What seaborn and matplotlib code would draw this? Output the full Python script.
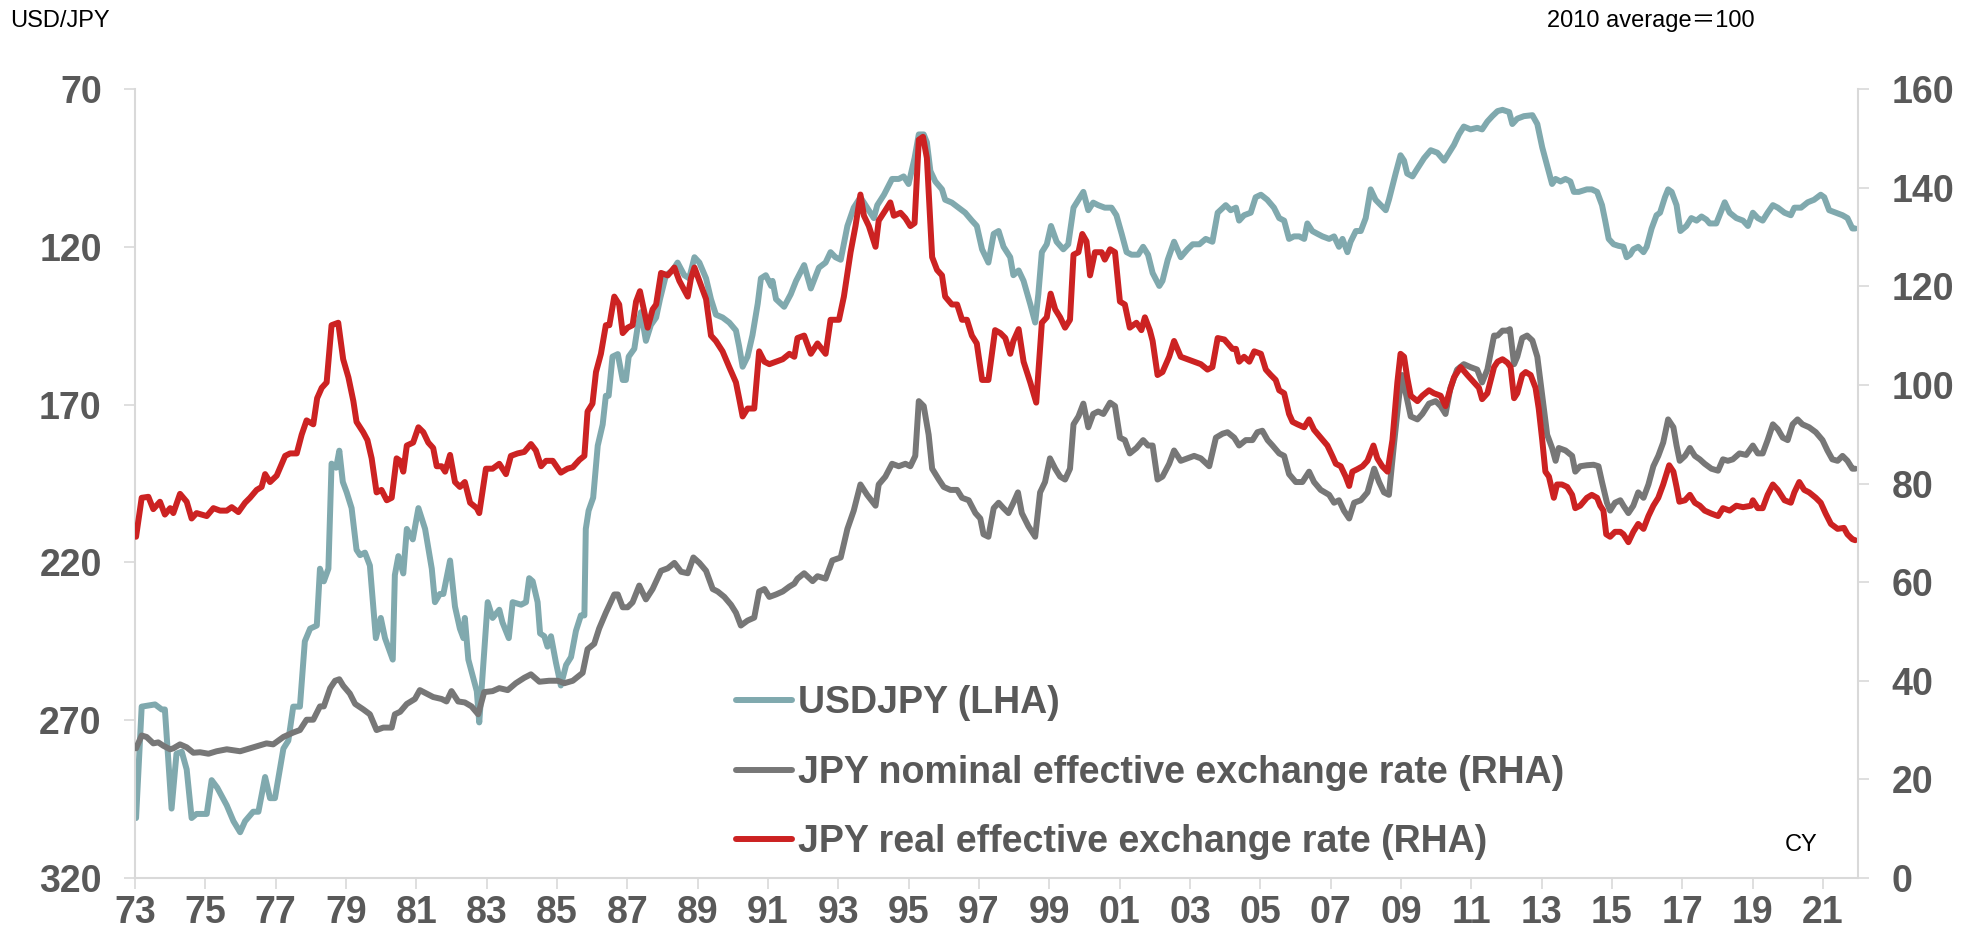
import matplotlib
matplotlib.use("Agg")
import matplotlib.pyplot as plt
import pandas as pd
import seaborn as sns

# ---------------- data ----------------
usd_years = [1973.03, 1973.19, 1973.57, 1973.76, 1973.85, 1974.04, 1974.18, 1974.33, 1974.47, 1974.61,
             1974.75, 1975.04, 1975.18, 1975.34, 1975.61, 1975.80, 1975.99, 1976.13, 1976.36, 1976.51,
             1976.70, 1976.84, 1976.98, 1977.22, 1977.36, 1977.50, 1977.69, 1977.83, 1977.98, 1978.17,
             1978.26, 1978.37, 1978.50, 1978.59, 1978.72, 1978.81, 1978.91, 1979.02, 1979.16, 1979.30,
             1979.40, 1979.54, 1979.68, 1979.85, 1979.99, 1980.11, 1980.33, 1980.39, 1980.49, 1980.63,
             1980.73, 1980.90, 1981.06, 1981.25, 1981.44, 1981.53, 1981.67, 1981.77, 1981.96, 1982.10,
             1982.24, 1982.34, 1982.38, 1982.48, 1982.72, 1982.79, 1983.03, 1983.17, 1983.36, 1983.45,
             1983.63, 1983.74, 1983.98, 1984.12, 1984.21, 1984.31, 1984.45, 1984.52, 1984.64, 1984.73,
             1984.83, 1984.97, 1985.11, 1985.26, 1985.40, 1985.54, 1985.68, 1985.78, 1985.82, 1985.90,
             1986.03, 1986.16, 1986.30, 1986.39, 1986.47, 1986.58, 1986.73, 1986.87, 1986.96, 1987.04,
             1987.20, 1987.29, 1987.39, 1987.53, 1987.67, 1987.82, 1987.93, 1988.10, 1988.29, 1988.43,
             1988.62, 1988.76, 1988.91, 1989.05, 1989.24, 1989.38, 1989.52, 1989.71, 1989.90, 1990.09,
             1990.18, 1990.28, 1990.42, 1990.56, 1990.71, 1990.80, 1990.94, 1991.09, 1991.13, 1991.23,
             1991.46, 1991.65, 1991.80, 1992.03, 1992.22, 1992.45, 1992.64, 1992.78, 1992.92, 1993.07,
             1993.26, 1993.44, 1993.63, 1993.82, 1994.01, 1994.11, 1994.30, 1994.53, 1994.72, 1994.86,
             1995.00, 1995.17, 1995.29, 1995.43, 1995.52, 1995.62, 1995.76, 1995.95, 1996.04, 1996.23,
             1996.42, 1996.61, 1996.80, 1996.94, 1997.09, 1997.27, 1997.42, 1997.56, 1997.70, 1997.89,
             1997.98, 1998.13, 1998.27, 1998.46, 1998.60, 1998.69, 1998.79, 1998.93, 1999.05, 1999.21,
             1999.40, 1999.54, 1999.69, 1999.83, 1999.97, 2000.11, 2000.25, 2000.39, 2000.58, 2000.77,
             2000.91, 2001.06, 2001.20, 2001.34, 2001.53, 2001.67, 2001.81, 2001.94, 2002.13, 2002.22,
             2002.37, 2002.55, 2002.74, 2002.93, 2003.08, 2003.27, 2003.45, 2003.64, 2003.79, 2004.02,
             2004.16, 2004.31, 2004.40, 2004.54, 2004.73, 2004.87, 2005.02, 2005.20, 2005.39, 2005.54,
             2005.68, 2005.82, 2005.96, 2006.11, 2006.25, 2006.34, 2006.48, 2006.63, 2006.77, 2006.96,
             2007.10, 2007.24, 2007.34, 2007.48, 2007.57, 2007.72, 2007.86, 2008.00, 2008.14, 2008.28,
             2008.43, 2008.57, 2008.66, 2008.85, 2008.99, 2009.09, 2009.18, 2009.33, 2009.47, 2009.66,
             2009.85, 2010.04, 2010.23, 2010.37, 2010.51, 2010.65, 2010.79, 2010.98, 2011.17, 2011.31,
             2011.46, 2011.60, 2011.75, 2011.89, 2012.08, 2012.17, 2012.31, 2012.50, 2012.74, 2012.88,
             2013.02, 2013.16, 2013.30, 2013.40, 2013.54, 2013.68, 2013.82, 2013.92, 2014.06, 2014.29,
             2014.43, 2014.58, 2014.72, 2014.81, 2014.91, 2015.05, 2015.19, 2015.33, 2015.42, 2015.52,
             2015.61, 2015.75, 2015.90, 2015.99, 2016.13, 2016.27, 2016.37, 2016.51, 2016.60, 2016.70,
             2016.84, 2016.95, 2017.12, 2017.26, 2017.41, 2017.55, 2017.69, 2017.78, 2017.97, 2018.21,
             2018.35, 2018.54, 2018.73, 2018.87, 2019.01, 2019.15, 2019.29, 2019.43, 2019.58, 2019.72,
             2019.91, 2020.09, 2020.19, 2020.38, 2020.57, 2020.75, 2020.94, 2021.04, 2021.18, 2021.37,
             2021.56, 2021.70, 2021.84, 2021.92]
usd_vals = [301.0, 265.7, 265.0, 266.6, 266.6, 298.0, 280.6, 280.0, 285.6, 301.0,
            299.7, 299.7, 289.0, 291.4, 297.0, 302.0, 305.5, 302.0, 299.0, 299.0,
            288.0, 294.7, 294.7, 279.0, 276.5, 265.7, 265.7, 245.0, 241.0, 240.0,
            222.0, 226.0, 222.0, 188.7, 190.0, 184.6, 194.5, 197.8, 202.8, 216.0,
            217.7, 216.9, 221.0, 244.0, 237.6, 244.0, 250.8, 224.0, 218.0, 223.5,
            209.4, 212.7, 202.8, 209.4, 222.0, 232.6, 230.0, 230.0, 219.4, 234.0,
            241.0, 244.0, 237.6, 250.8, 260.8, 270.7, 232.6, 237.6, 235.0, 239.0,
            244.0, 232.6, 233.4, 232.6, 225.0, 226.0, 232.6, 242.5, 243.4, 246.7,
            243.4, 251.7, 259.0, 252.5, 250.0, 241.7, 236.8, 236.8, 209.4, 203.6,
            199.5, 183.0, 176.3, 167.2, 167.2, 154.8, 154.0, 162.2, 162.2, 154.8,
            152.3, 145.7, 140.7, 149.8, 144.8, 142.4, 136.6, 129.0, 127.5, 125.0,
            129.0, 130.0, 123.3, 125.0, 130.0, 136.6, 141.5, 142.4, 144.0, 146.5,
            151.5, 158.0, 154.8, 148.0, 138.0, 130.0, 129.0, 132.4, 130.8, 136.6,
            139.0, 135.0, 130.8, 125.8, 133.2, 126.6, 125.0, 121.7, 123.3, 124.1,
            113.4, 107.6, 104.3, 107.6, 110.9, 106.8, 103.5, 98.5, 98.5, 97.7,
            100.1, 91.9, 84.4, 84.4, 86.9, 96.0, 99.3, 101.8, 105.1, 106.0,
            107.6, 109.2, 111.7, 113.4, 120.8, 125.0, 115.9, 115.0, 120.0, 123.3,
            129.0, 127.5, 130.8, 138.2, 144.0, 135.0, 121.7, 119.2, 113.4, 118.4,
            120.8, 119.2, 107.6, 105.1, 102.6, 108.4, 106.0, 106.8, 107.6, 107.6,
            110.0, 115.9, 121.7, 122.5, 122.5, 120.0, 122.5, 128.3, 132.4, 130.8,
            124.1, 118.4, 123.3, 120.8, 119.2, 119.2, 117.5, 118.4, 109.2, 106.8,
            108.4, 107.6, 111.7, 110.0, 109.2, 104.3, 103.5, 105.1, 107.6, 110.9,
            111.7, 117.5, 116.7, 116.7, 117.5, 112.6, 115.0, 115.9, 116.7, 117.5,
            116.7, 120.0, 117.5, 121.7, 118.4, 115.0, 115.0, 110.9, 101.8, 105.1,
            106.8, 108.4, 105.1, 96.8, 91.0, 92.7, 96.8, 97.7, 95.2, 91.9,
            89.4, 90.2, 92.7, 90.2, 87.7, 84.4, 81.9, 82.8, 82.3, 82.8,
            80.3, 78.6, 77.0, 76.6, 77.3, 81.1, 79.4, 78.6, 78.3, 81.1,
            88.5, 94.3, 100.1, 98.5, 99.3, 98.5, 99.3, 102.6, 102.6, 101.8,
            101.8, 102.6, 106.8, 111.7, 117.5, 119.2, 119.7, 120.0, 123.3, 122.5,
            120.8, 120.0, 121.7, 120.0, 114.2, 110.0, 109.2, 104.3, 101.8, 102.6,
            106.8, 115.0, 113.4, 110.9, 111.7, 110.4, 111.4, 112.6, 112.6, 105.9,
            109.2, 110.9, 111.7, 113.4, 109.2, 110.9, 111.7, 109.2, 106.8, 107.6,
            109.2, 110.0, 107.6, 107.6, 105.9, 105.1, 103.5, 104.3, 108.4, 109.2,
            110.0, 110.9, 114.2, 114.2]

neer_years = [1973.03, 1973.19, 1973.33, 1973.52, 1973.66, 1973.81, 1974.00, 1974.09, 1974.28, 1974.47,
              1974.66, 1974.85, 1975.09, 1975.32, 1975.61, 1975.99, 1976.36, 1976.74, 1976.93, 1977.22,
              1977.50, 1977.69, 1977.88, 1978.07, 1978.26, 1978.37, 1978.55, 1978.69, 1978.81, 1978.92,
              1979.11, 1979.26, 1979.49, 1979.68, 1979.87, 1980.06, 1980.30, 1980.39, 1980.54, 1980.73,
              1980.96, 1981.10, 1981.29, 1981.48, 1981.72, 1981.86, 1982.00, 1982.19, 1982.38, 1982.57,
              1982.76, 1982.93, 1983.17, 1983.36, 1983.60, 1983.83, 1984.07, 1984.26, 1984.50, 1984.78,
              1985.02, 1985.21, 1985.45, 1985.73, 1985.87, 1986.06, 1986.20, 1986.39, 1986.63, 1986.73,
              1986.87, 1987.01, 1987.15, 1987.34, 1987.53, 1987.72, 1987.96, 1988.15, 1988.34, 1988.53,
              1988.72, 1988.88, 1989.05, 1989.24, 1989.43, 1989.57, 1989.76, 1989.95, 1990.09, 1990.23,
              1990.42, 1990.61, 1990.75, 1990.90, 1991.04, 1991.23, 1991.42, 1991.61, 1991.75, 1991.84,
              1992.03, 1992.27, 1992.41, 1992.64, 1992.83, 1993.07, 1993.26, 1993.44, 1993.63, 1993.82,
              1994.06, 1994.15, 1994.34, 1994.53, 1994.72, 1994.91, 1995.05, 1995.19, 1995.29, 1995.43,
              1995.57, 1995.67, 1995.86, 1996.00, 1996.19, 1996.38, 1996.52, 1996.71, 1996.90, 1997.04,
              1997.13, 1997.27, 1997.42, 1997.56, 1997.70, 1997.84, 1997.98, 1998.11, 1998.22, 1998.41,
              1998.60, 1998.74, 1998.88, 1999.02, 1999.17, 1999.31, 1999.45, 1999.59, 1999.69, 1999.83,
              1999.97, 2000.11, 2000.25, 2000.39, 2000.54, 2000.73, 2000.87, 2001.01, 2001.15, 2001.29,
              2001.48, 2001.67, 2001.81, 2001.94, 2002.08, 2002.22, 2002.41, 2002.55, 2002.74, 2002.93,
              2003.12, 2003.31, 2003.55, 2003.74, 2003.93, 2004.07, 2004.26, 2004.40, 2004.59, 2004.78,
              2004.92, 2005.06, 2005.21, 2005.35, 2005.54, 2005.68, 2005.82, 2006.01, 2006.20, 2006.39,
              2006.53, 2006.72, 2006.96, 2007.10, 2007.24, 2007.38, 2007.53, 2007.67, 2007.86, 2008.05,
              2008.24, 2008.38, 2008.52, 2008.66, 2008.80, 2008.95, 2009.04, 2009.14, 2009.28, 2009.47,
              2009.61, 2009.80, 2009.99, 2010.13, 2010.27, 2010.41, 2010.60, 2010.79, 2010.98, 2011.17,
              2011.31, 2011.46, 2011.65, 2011.75, 2011.89, 2012.03, 2012.10, 2012.22, 2012.31, 2012.45,
              2012.59, 2012.74, 2012.88, 2013.02, 2013.16, 2013.30, 2013.40, 2013.49, 2013.68, 2013.87,
              2013.96, 2014.10, 2014.29, 2014.48, 2014.62, 2014.72, 2014.86, 2014.95, 2015.09, 2015.24,
              2015.33, 2015.47, 2015.61, 2015.75, 2015.90, 2016.04, 2016.18, 2016.32, 2016.46, 2016.60,
              2016.75, 2016.84, 2016.93, 2017.08, 2017.22, 2017.36, 2017.50, 2017.64, 2017.83, 2018.02,
              2018.16, 2018.30, 2018.44, 2018.63, 2018.82, 2019.01, 2019.15, 2019.29, 2019.43, 2019.58,
              2019.72, 2019.86, 2020.00, 2020.14, 2020.28, 2020.42, 2020.61, 2020.80, 2020.99, 2021.13,
              2021.27, 2021.42, 2021.56, 2021.70, 2021.84, 2021.92]
neer_vals = [26.3, 28.9, 28.6, 27.3, 27.5, 26.8, 26.1, 26.3, 27.1, 26.5,
             25.4, 25.5, 25.2, 25.7, 26.1, 25.7, 26.5, 27.3, 27.1, 28.6,
             29.5, 30.0, 32.1, 32.1, 34.8, 34.8, 38.5, 40.0, 40.3, 39.0,
             37.4, 35.3, 34.2, 33.2, 30.0, 30.5, 30.5, 33.2, 33.7, 35.3,
             36.3, 38.1, 37.4, 36.7, 36.3, 35.8, 37.9, 35.8, 35.6, 34.8,
             33.2, 37.7, 37.9, 38.5, 38.1, 39.5, 40.6, 41.3, 39.8, 40.0,
             40.0, 39.5, 40.0, 41.6, 46.4, 47.5, 50.6, 53.8, 57.5, 57.5,
             54.9, 54.9, 55.9, 59.3, 56.5, 58.6, 62.3, 62.8, 63.9, 62.1,
             61.8, 65.0, 63.9, 62.3, 58.6, 58.1, 57.0, 55.4, 53.8, 51.2,
             52.2, 52.8, 58.1, 58.6, 57.0, 57.5, 58.1, 59.1, 59.7, 60.7,
             61.8, 60.2, 61.2, 60.7, 64.4, 65.0, 70.8, 74.5, 79.8, 77.7,
             75.5, 79.8, 81.4, 84.0, 83.5, 84.0, 83.5, 85.6, 96.7, 95.7,
             89.9, 83.0, 80.8, 79.3, 78.7, 78.7, 77.1, 76.6, 74.0, 72.9,
             69.7, 69.2, 75.0, 76.1, 75.0, 74.0, 76.1, 78.2, 74.0, 71.3,
             69.2, 78.2, 80.3, 85.1, 83.0, 81.4, 80.8, 83.0, 92.0, 93.6,
             96.2, 91.4, 94.1, 94.6, 94.1, 96.4, 95.7, 89.3, 88.8, 86.1,
             87.2, 88.8, 87.7, 87.7, 80.8, 81.4, 84.0, 86.7, 84.6, 85.1,
             85.6, 85.1, 83.5, 89.3, 90.1, 90.4, 89.3, 87.7, 88.8, 88.8,
             90.4, 90.7, 88.8, 87.7, 86.1, 85.6, 81.9, 80.3, 80.3, 82.4,
             80.3, 78.7, 77.7, 76.1, 76.6, 74.5, 72.9, 76.1, 76.6, 78.2,
             83.0, 80.3, 78.2, 77.7, 87.7, 97.8, 102.0, 98.3, 93.6, 93.0,
             94.1, 96.2, 96.7, 95.7, 94.1, 99.4, 103.1, 104.2, 103.6, 103.1,
             100.5, 103.1, 110.0, 110.0, 111.0, 111.0, 111.3, 104.2, 105.7, 109.5,
             110.0, 109.0, 105.7, 97.8, 89.9, 87.2, 84.6, 87.2, 86.7, 85.6,
             82.4, 83.5, 83.7, 83.8, 83.5, 80.3, 76.1, 74.5, 76.1, 76.6,
             75.5, 74.0, 75.5, 78.2, 77.1, 79.8, 83.5, 85.6, 88.3, 93.0,
             91.4, 87.7, 84.6, 85.6, 87.2, 85.6, 84.9, 84.0, 83.0, 82.6,
             84.9, 84.6, 84.9, 86.1, 85.8, 87.7, 86.1, 86.1, 88.8, 92.0,
             91.0, 89.3, 88.8, 92.0, 93.0, 92.0, 91.4, 90.4, 88.8, 86.7,
             84.9, 84.6, 85.6, 84.6, 83.0, 83.0]

reer_years = [1973.03, 1973.19, 1973.38, 1973.52, 1973.71, 1973.85, 1974.00, 1974.09, 1974.28, 1974.47,
              1974.61, 1974.75, 1975.04, 1975.23, 1975.42, 1975.61, 1975.75, 1975.94, 1976.13, 1976.27,
              1976.46, 1976.60, 1976.70, 1976.84, 1977.03, 1977.27, 1977.41, 1977.60, 1977.74, 1977.88,
              1978.07, 1978.18, 1978.31, 1978.45, 1978.59, 1978.78, 1978.92, 1979.07, 1979.21, 1979.30,
              1979.49, 1979.61, 1979.73, 1979.87, 1980.01, 1980.16, 1980.30, 1980.44, 1980.54, 1980.63,
              1980.73, 1980.91, 1981.06, 1981.20, 1981.34, 1981.48, 1981.58, 1981.72, 1981.82, 1981.96,
              1982.10, 1982.24, 1982.38, 1982.53, 1982.72, 1982.79, 1982.98, 1983.17, 1983.36, 1983.55,
              1983.69, 1983.88, 1984.07, 1984.26, 1984.40, 1984.55, 1984.69, 1984.88, 1985.11, 1985.30,
              1985.45, 1985.64, 1985.78, 1985.87, 1986.01, 1986.11, 1986.25, 1986.39, 1986.49, 1986.63,
              1986.77, 1986.87, 1987.01, 1987.15, 1987.25, 1987.36, 1987.44, 1987.58, 1987.72, 1987.82,
              1987.96, 1988.15, 1988.34, 1988.48, 1988.72, 1988.81, 1988.91, 1989.05, 1989.24, 1989.38,
              1989.52, 1989.71, 1989.90, 1990.09, 1990.18, 1990.28, 1990.42, 1990.61, 1990.75, 1990.90,
              1991.04, 1991.23, 1991.42, 1991.61, 1991.75, 1991.84, 1992.03, 1992.22, 1992.41, 1992.64,
              1992.78, 1993.02, 1993.16, 1993.35, 1993.49, 1993.63, 1993.73, 1993.87, 1994.06, 1994.15,
              1994.34, 1994.48, 1994.58, 1994.77, 1994.91, 1995.05, 1995.17, 1995.29, 1995.41, 1995.52,
              1995.67, 1995.81, 1995.95, 1996.04, 1996.23, 1996.38, 1996.52, 1996.66, 1996.80, 1996.94,
              1997.09, 1997.27, 1997.46, 1997.61, 1997.75, 1997.89, 1997.98, 1998.13, 1998.27, 1998.46,
              1998.63, 1998.79, 1998.93, 1999.04, 1999.17, 1999.31, 1999.45, 1999.59, 1999.69, 1999.83,
              1999.94, 2000.06, 2000.16, 2000.30, 2000.49, 2000.58, 2000.73, 2000.87, 2001.01, 2001.15,
              2001.29, 2001.48, 2001.62, 2001.72, 2001.86, 2001.94, 2002.08, 2002.22, 2002.41, 2002.55,
              2002.74, 2002.93, 2003.12, 2003.31, 2003.50, 2003.64, 2003.79, 2003.98, 2004.21, 2004.31,
              2004.40, 2004.54, 2004.69, 2004.83, 2005.02, 2005.16, 2005.30, 2005.44, 2005.54, 2005.68,
              2005.82, 2005.92, 2006.06, 2006.25, 2006.39, 2006.53, 2006.72, 2006.91, 2007.05, 2007.15,
              2007.29, 2007.43, 2007.53, 2007.62, 2007.76, 2007.91, 2008.05, 2008.22, 2008.33, 2008.47,
              2008.62, 2008.76, 2008.90, 2008.99, 2009.09, 2009.18, 2009.28, 2009.47, 2009.61, 2009.80,
              2009.94, 2010.13, 2010.27, 2010.37, 2010.51, 2010.70, 2010.89, 2011.08, 2011.22, 2011.31,
              2011.46, 2011.65, 2011.75, 2011.89, 2012.03, 2012.12, 2012.22, 2012.31, 2012.45, 2012.55,
              2012.69, 2012.83, 2012.92, 2013.02, 2013.11, 2013.21, 2013.35, 2013.44, 2013.58, 2013.73,
              2013.87, 2013.96, 2014.10, 2014.29, 2014.43, 2014.58, 2014.67, 2014.76, 2014.84, 2014.95,
              2015.09, 2015.24, 2015.33, 2015.47, 2015.61, 2015.75, 2015.90, 2016.04, 2016.18, 2016.32,
              2016.46, 2016.63, 2016.75, 2016.84, 2016.92, 2017.08, 2017.22, 2017.36, 2017.50, 2017.64,
              2017.83, 2018.02, 2018.16, 2018.35, 2018.54, 2018.73, 2018.96, 2019.01, 2019.15, 2019.29,
              2019.43, 2019.58, 2019.72, 2019.91, 2020.09, 2020.19, 2020.33, 2020.47, 2020.61, 2020.80,
              2020.94, 2021.08, 2021.23, 2021.42, 2021.60, 2021.70, 2021.84, 2021.92]
reer_vals = [69.2, 77.1, 77.3, 74.8, 76.3, 73.7, 75.0, 74.0, 77.9, 76.3,
             72.9, 74.0, 73.4, 75.0, 74.5, 74.5, 75.2, 74.2, 76.1, 77.1,
             78.7, 79.3, 81.9, 80.3, 81.6, 85.6, 86.1, 86.1, 89.9, 92.8,
             92.0, 97.3, 99.4, 100.5, 112.1, 112.6, 105.2, 101.5, 96.7, 92.5,
             90.4, 88.8, 85.1, 78.2, 78.7, 76.6, 77.1, 85.1, 84.6, 82.4,
             87.7, 88.3, 91.4, 90.4, 88.3, 87.2, 83.5, 83.5, 82.4, 85.8,
             80.3, 79.3, 80.3, 76.1, 75.0, 74.0, 83.0, 83.0, 84.0, 81.9,
             85.6, 86.1, 86.4, 88.0, 86.7, 83.5, 84.6, 84.6, 82.2, 83.0,
             83.3, 84.8, 85.6, 94.6, 96.2, 102.6, 106.3, 112.1, 112.1, 117.9,
             116.3, 110.5, 111.6, 112.1, 116.9, 119.0, 116.3, 111.6, 115.3, 116.3,
             122.7, 122.2, 123.8, 121.1, 117.9, 121.6, 123.8, 121.1, 117.4, 110.0,
             108.9, 106.8, 103.6, 100.5, 97.3, 93.6, 95.2, 95.2, 106.8, 104.7,
             104.2, 104.7, 105.2, 106.3, 105.7, 109.5, 110.0, 106.3, 108.4, 106.3,
             113.2, 113.2, 117.9, 126.9, 132.2, 138.6, 134.3, 132.2, 128.0, 133.3,
             135.4, 137.0, 134.3, 134.9, 133.8, 132.2, 132.8, 149.7, 150.3, 146.0,
             125.9, 123.3, 122.2, 117.9, 116.3, 116.3, 113.2, 113.2, 110.0, 108.4,
             101.0, 101.0, 111.1, 110.5, 109.5, 106.3, 108.9, 111.3, 104.7, 100.5,
             96.4, 112.6, 113.7, 118.5, 115.3, 113.7, 111.6, 113.2, 126.4, 126.9,
             130.6, 129.1, 122.2, 126.9, 126.9, 125.4, 127.5, 126.9, 116.9, 116.3,
             111.6, 112.6, 111.1, 113.7, 111.1, 108.9, 102.0, 102.6, 105.7, 108.9,
             105.7, 105.2, 104.7, 104.2, 103.1, 103.6, 109.5, 109.2, 107.3, 107.3,
             104.7, 105.7, 104.7, 106.8, 106.3, 103.1, 102.0, 101.0, 98.9, 98.3,
             94.1, 92.5, 92.0, 91.4, 93.0, 90.9, 89.3, 87.7, 85.6, 84.0,
             83.5, 81.4, 79.5, 82.4, 82.9, 83.5, 84.6, 87.7, 85.1, 83.5,
             82.4, 88.8, 100.5, 106.3, 105.7, 101.5, 97.8, 96.7, 97.8, 98.9,
             98.3, 97.8, 95.7, 98.3, 101.5, 103.6, 102.0, 100.5, 99.4, 97.1,
             98.3, 103.6, 104.7, 105.2, 104.5, 103.6, 97.3, 98.3, 102.0, 102.6,
             102.0, 99.4, 95.2, 88.8, 82.4, 81.4, 77.1, 79.8, 79.8, 79.3,
             77.7, 75.0, 75.5, 77.1, 77.7, 77.1, 75.5, 74.5, 69.7, 69.2,
             70.2, 70.2, 69.7, 68.1, 70.2, 71.8, 70.8, 73.4, 75.5, 77.1,
             79.8, 83.7, 82.4, 79.3, 76.3, 76.6, 77.7, 76.1, 75.5, 74.5,
             73.9, 73.4, 75.0, 74.5, 75.5, 75.2, 75.5, 76.6, 75.0, 75.0,
             77.7, 79.8, 78.7, 76.6, 76.1, 78.2, 80.3, 78.7, 78.2, 77.1,
             76.1, 73.9, 71.8, 70.8, 71.0, 69.7, 68.7, 68.5]

series_labels = ["USDJPY (LHA)",
                 "JPY nominal effective exchange rate (RHA)",
                 "JPY real effective exchange rate (RHA)"]
left_ticks = [70, 120, 170, 220, 270, 320]
right_ticks = [0, 20, 40, 60, 80, 100, 120, 140, 160]
x_tick_years = list(range(1973, 2022, 2))
x_tick_labels = [f"{y % 100:02d}" for y in x_tick_years]

# ---------------- styling ----------------
sns.set_style("white")
plt.rcParams["font.family"] = ["Liberation Sans", "Noto Sans CJK JP", "DejaVu Sans"]

TEAL = "#80A9AE"
GRAY = "#777777"
RED = "#CC2222"
TXT = "#595959"
AXC = "#D9D9D9"
LW = 4.3

df_usd = pd.DataFrame({"year": usd_years, "value": usd_vals})
df_neer = pd.DataFrame({"year": neer_years, "value": neer_vals})
df_reer = pd.DataFrame({"year": reer_years, "value": reer_vals})

fig = plt.figure(figsize=(19.68, 9.40), dpi=100)
ax = fig.add_axes([135 / 1968, 62 / 940, 1723 / 1968, 789 / 940])
ax2 = ax.twinx()

sns.lineplot(data=df_usd, x="year", y="value", ax=ax, color=TEAL, linewidth=LW)
sns.lineplot(data=df_neer, x="year", y="value", ax=ax2, color=GRAY, linewidth=LW)
sns.lineplot(data=df_reer, x="year", y="value", ax=ax2, color=RED, linewidth=LW)

ax.set_xlim(1973, 2022)
ax.set_ylim(320, 70)
ax2.set_ylim(0, 160)
for a in (ax, ax2):
    a.set_xlabel("")
    a.set_ylabel("")
    a.grid(False)

ax.set_yticks(left_ticks)
ax.set_yticklabels([str(v) for v in left_ticks], fontweight="bold", fontsize=27, color=TXT)
ax2.set_yticks(right_ticks)
ax2.set_yticklabels([str(v) for v in right_ticks], fontweight="bold", fontsize=27, color=TXT)
ax.set_xticks(x_tick_years)
ax.set_xticklabels(x_tick_labels, fontweight="bold", fontsize=27, color=TXT)

ax.tick_params(axis="y", left=True, direction="out", length=8, width=1.2, color=AXC, pad=16)
ax.tick_params(axis="x", bottom=True, direction="out", length=8, width=1.2, color=AXC, pad=4)
ax2.tick_params(axis="y", right=True, direction="out", length=8, width=1.2, color=AXC, pad=16)

for a in (ax, ax2):
    for s in a.spines.values():
        s.set_visible(False)
ax.spines["left"].set_visible(True)
ax.spines["bottom"].set_visible(True)
ax2.spines["right"].set_visible(True)
for s in (ax.spines["left"], ax.spines["bottom"], ax2.spines["right"]):
    s.set_color(AXC)
    s.set_linewidth(1.5)

handles = [ax.lines[0], ax2.lines[0], ax2.lines[1]]
leg = ax2.legend(handles, series_labels, loc="upper left",
                 bbox_to_anchor=(736 / 1968, 1 - 685 / 940), bbox_transform=fig.transFigure,
                 frameon=False, prop={"weight": "bold", "size": 27},
                 handlelength=1.5, handletextpad=0.15, labelspacing=0.9,
                 borderpad=0, borderaxespad=0)
for t in leg.get_texts():
    t.set_color(TXT)

fig.text(10 / 1968, 1 - 27 / 940, "USD/JPY", fontsize=17, color="black", va="baseline", ha="left")
fig.text(1547 / 1968, 1 - 27 / 940, "2010 average＝100", fontsize=17, color="black",
         va="baseline", ha="left")
fig.text(1785 / 1968, 1 - 851 / 940, "CY", fontsize=17, color="black", va="baseline", ha="left")

fig.savefig("out.png", dpi=100)
